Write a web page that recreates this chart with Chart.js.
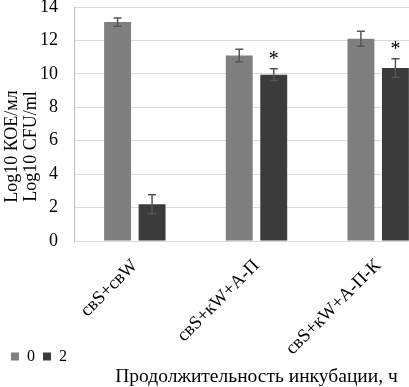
<!DOCTYPE html>
<html><head><meta charset="utf-8">
<script src="https://cdn.jsdelivr.net/npm/chart.js@4/dist/chart.umd.min.js"></script>
<style>
html,body{margin:0;padding:0;overflow:hidden;background:#fff}
#wrap{width:445px;height:387px;position:relative}
</style>
</head><body><div id="wrap"><canvas id="c"></canvas></div>
<script>
// ---- data ----
const categories = ['свS+свW', 'свS+кW+А-П', 'свS+кW+А-П-К'];
const seriesNames = ['0', '2'];
const values0 = [13.1, 11.1, 12.1];
const values2 = [2.2, 9.95, 10.35];
const errors0 = [0.25, 0.38, 0.45];
const errors2 = [0.57, 0.35, 0.55];
const marks0 = ['', '', ''];
const marks2 = ['', '*', '*'];
const yMin = 0, yMax = 14, yStep = 2;
const yTitle = ['Log10 КОЕ/мл', 'Log10 CFU/ml'];
const xTitle = 'Продолжительность инкубации, ч';

const FONT = 'Liberation Serif';
const pad = '\u00A0'.repeat(10);

const errorBars = {
  id: 'errorBars',
  afterDatasetsDraw(chart) {
    const ctx = chart.ctx;
    const y = chart.scales.y;
    chart.data.datasets.forEach((ds, i) => {
      const meta = chart.getDatasetMeta(i);
      meta.data.forEach((bar, j) => {
        const v = ds.data[j], e = ds.errors[j];
        const yt = y.getPixelForValue(v + e), yb = y.getPixelForValue(v - e);
        ctx.save();
        ctx.strokeStyle = '#555';
        ctx.lineWidth = 1.5;
        ctx.beginPath();
        ctx.moveTo(bar.x, yt); ctx.lineTo(bar.x, yb);
        ctx.moveTo(bar.x - 4, yt); ctx.lineTo(bar.x + 4, yt);
        ctx.moveTo(bar.x - 4, yb); ctx.lineTo(bar.x + 4, yb);
        ctx.stroke();
        if (ds.marks[j]) {
          ctx.fillStyle = '#000';
          ctx.font = '20px "' + FONT + '"';
          ctx.textAlign = 'center';
          ctx.textBaseline = 'alphabetic';
          ctx.fillText(ds.marks[j], bar.x, yt - 4);
        }
        ctx.restore();
      });
    });
  }
};

new Chart(document.getElementById('c'), {
  type: 'bar',
  data: {
    labels: categories,
    datasets: [
      { label: seriesNames[0], data: values0, errors: errors0, marks: marks0,
        backgroundColor: '#7f7f7f', borderWidth: 0 },
      { label: seriesNames[1], data: values2, errors: errors2, marks: marks2,
        backgroundColor: '#3b3b3b', borderWidth: 0 }
    ]
  },
  options: {
    responsive: true,
    maintainAspectRatio: false,
    animation: false,
    layout: { padding: { left: 3, right: 6, top: 0, bottom: 0 } },
    datasets: { bar: { categoryPercentage: 0.567, barPercentage: 0.78 } },
    scales: {
      x: {
        grid: { display: false, drawTicks: false },
        border: { display: false },
        ticks: {
          autoSkip: false, minRotation: 45, maxRotation: 45, padding: 14,
          color: '#000', font: { family: FONT, size: 18.5 }
        },
        afterFit(s) {
          s.height = 99.5;
          // let the rotated labels run past the axis box (they overlap the legend row in the original)
          s._computeLabelArea = () => undefined;
        }
      },
      y: {
        min: yMin, max: yMax,
        grid: { color: '#d9d9d9', lineWidth: 1, drawTicks: true, tickLength: 16,
                tickColor: 'rgba(0,0,0,0)' },
        border: { display: true, color: '#bfbfbf' },
        ticks: { stepSize: yStep, padding: 0, autoSkip: false, color: '#000',
                 font: { family: FONT, size: 18, lineHeight: 0.78 } },
        title: {
          display: true,
          text: [yTitle[0] + pad, yTitle[1] + pad],
          color: '#000',
          font: { family: FONT, size: 18, lineHeight: 1.05 },
          padding: { top: 0, bottom: 0 }
        },
        afterFit(s) { s.width = 71; }
      }
    },
    plugins: {
      legend: {
        position: 'bottom', align: 'start',
        labels: { boxWidth: 8, boxHeight: 8, padding: 8, color: '#000',
                  font: { family: FONT, size: 16 } }
      },
      title: {
        display: true, position: 'bottom', fullSize: false,
        text: xTitle, color: '#000',
        font: { family: FONT, size: 19.5, lineHeight: 1, weight: 'normal' },
        padding: { top: -7, bottom: 0 }
      },
      tooltip: { enabled: false }
    }
  },
  plugins: [errorBars]
});
</script>
</body></html>
